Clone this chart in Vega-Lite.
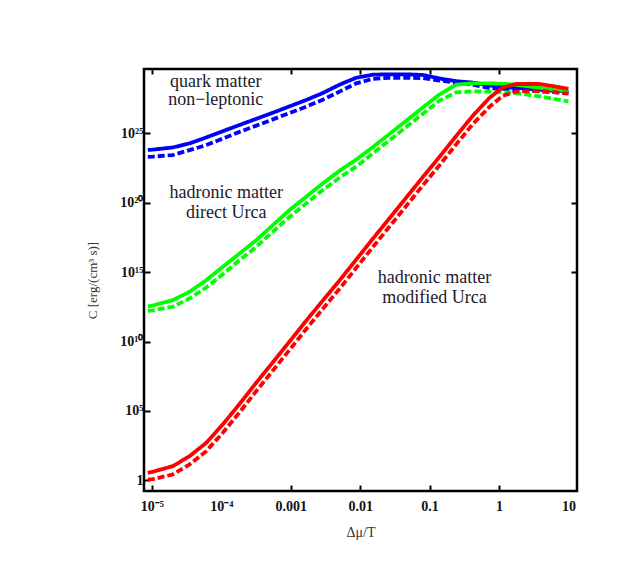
{
  "$schema": "https://vega.github.io/schema/vega-lite/v6.json",
  "width": 433,
  "height": 422,
  "autosize": {"type": "none"},
  "padding": {"left": 144, "top": 69, "right": 45, "bottom": 84},
  "background": "white",
  "config": {
    "view": {"stroke": "#000", "strokeWidth": 2.5},
    "axis": {"labelFont": "Liberation Serif", "titleFont": "Liberation Serif", "grid": false, "domain": false, "tickColor": "#000", "tickWidth": 2, "labelColor": "#111", "titleColor": "#333", "titleFontWeight": "normal"}
  },
  "datasets": {
    "curves": [
      {"x": 8.71e-6, "y": 6.31e23, "series": "quark", "style": "solid"},
      {"x": 1.035e-5, "y": 6.607e23, "series": "quark", "style": "solid"},
      {"x": 1.995e-5, "y": 9.55e23, "series": "quark", "style": "solid"},
      {"x": 3.491e-5, "y": 1.862e24, "series": "quark", "style": "solid"},
      {"x": 6.067e-5, "y": 5.012e24, "series": "quark", "style": "solid"},
      {"x": 1.052e-4, "y": 1.413e25, "series": "quark", "style": "solid"},
      {"x": 1.832e-4, "y": 3.981e25, "series": "quark", "style": "solid"},
      {"x": 3.184e-4, "y": 1.096e26, "series": "quark", "style": "solid"},
      {"x": 5.521e-4, "y": 3.02e26, "series": "quark", "style": "solid"},
      {"x": 9.616e-4, "y": 8.71e26, "series": "quark", "style": "solid"},
      {"x": 1.671e-3, "y": 2.512e27, "series": "quark", "style": "solid"},
      {"x": 2.897e-3, "y": 7.943e27, "series": "quark", "style": "solid"},
      {"x": 5.047e-3, "y": 3.162e28, "series": "quark", "style": "solid"},
      {"x": 8.77e-3, "y": 1e29, "series": "quark", "style": "solid"},
      {"x": 1.521e-2, "y": 1.66e29, "series": "quark", "style": "solid"},
      {"x": 2.649e-2, "y": 1.778e29, "series": "quark", "style": "solid"},
      {"x": 4.603e-2, "y": 1.778e29, "series": "quark", "style": "solid"},
      {"x": 7.98e-2, "y": 1.585e29, "series": "quark", "style": "solid"},
      {"x": 0.139, "y": 8.913e28, "series": "quark", "style": "solid"},
      {"x": 0.2415, "y": 5.623e28, "series": "quark", "style": "solid"},
      {"x": 0.4188, "y": 4.467e28, "series": "quark", "style": "solid"},
      {"x": 0.7295, "y": 2.818e28, "series": "quark", "style": "solid"},
      {"x": 1.132, "y": 2.138e28, "series": "quark", "style": "solid"},
      {"x": 1.762, "y": 1.862e28, "series": "quark", "style": "solid"},
      {"x": 3.828, "y": 1.38e28, "series": "quark", "style": "solid"},
      {"x": 5.943, "y": 1.175e28, "series": "quark", "style": "solid"},
      {"x": 10, "y": 1e28, "series": "quark", "style": "solid"},

      {"x": 8.71e-6, "y": 1.995e23, "series": "quark", "style": "dashed"},
      {"x": 1.035e-5, "y": 2.089e23, "series": "quark", "style": "dashed"},
      {"x": 1.995e-5, "y": 2.692e23, "series": "quark", "style": "dashed"},
      {"x": 3.491e-5, "y": 6.166e23, "series": "quark", "style": "dashed"},
      {"x": 6.067e-5, "y": 1.413e24, "series": "quark", "style": "dashed"},
      {"x": 1.052e-4, "y": 4.169e24, "series": "quark", "style": "dashed"},
      {"x": 1.832e-4, "y": 1.259e25, "series": "quark", "style": "dashed"},
      {"x": 3.184e-4, "y": 3.548e25, "series": "quark", "style": "dashed"},
      {"x": 5.521e-4, "y": 1e26, "series": "quark", "style": "dashed"},
      {"x": 9.616e-4, "y": 2.884e26, "series": "quark", "style": "dashed"},
      {"x": 1.671e-3, "y": 8.318e26, "series": "quark", "style": "dashed"},
      {"x": 2.897e-3, "y": 2.63e27, "series": "quark", "style": "dashed"},
      {"x": 5.047e-3, "y": 1e28, "series": "quark", "style": "dashed"},
      {"x": 8.77e-3, "y": 3.981e28, "series": "quark", "style": "dashed"},
      {"x": 1.521e-2, "y": 8.318e28, "series": "quark", "style": "dashed"},
      {"x": 2.649e-2, "y": 1e29, "series": "quark", "style": "dashed"},
      {"x": 4.603e-2, "y": 1e29, "series": "quark", "style": "dashed"},
      {"x": 7.98e-2, "y": 9.333e28, "series": "quark", "style": "dashed"},
      {"x": 0.139, "y": 6.31e28, "series": "quark", "style": "dashed"},
      {"x": 0.2415, "y": 4.467e28, "series": "quark", "style": "dashed"},
      {"x": 0.4188, "y": 3.162e28, "series": "quark", "style": "dashed"},
      {"x": 0.7295, "y": 1.778e28, "series": "quark", "style": "dashed"},
      {"x": 1.132, "y": 1.585e28, "series": "quark", "style": "dashed"},
      {"x": 1.762, "y": 1.318e28, "series": "quark", "style": "dashed"},
      {"x": 3.828, "y": 1.047e28, "series": "quark", "style": "dashed"},
      {"x": 5.943, "y": 9.12e27, "series": "quark", "style": "dashed"},
      {"x": 10, "y": 7.943e27, "series": "quark", "style": "dashed"},

      {"x": 8.71e-6, "y": 3.311e12, "series": "direct", "style": "solid"},
      {"x": 1.035e-5, "y": 3.981e12, "series": "direct", "style": "solid"},
      {"x": 1.995e-5, "y": 9.55e12, "series": "direct", "style": "solid"},
      {"x": 3.491e-5, "y": 3.802e13, "series": "direct", "style": "solid"},
      {"x": 6.067e-5, "y": 2.63e14, "series": "direct", "style": "solid"},
      {"x": 1.052e-4, "y": 2.399e15, "series": "direct", "style": "solid"},
      {"x": 1.832e-4, "y": 2.188e16, "series": "direct", "style": "solid"},
      {"x": 3.184e-4, "y": 1.995e17, "series": "direct", "style": "solid"},
      {"x": 5.521e-4, "y": 2.399e18, "series": "direct", "style": "solid"},
      {"x": 9.616e-4, "y": 2.951e19, "series": "direct", "style": "solid"},
      {"x": 1.671e-3, "y": 2.692e20, "series": "direct", "style": "solid"},
      {"x": 2.897e-3, "y": 2.455e21, "series": "direct", "style": "solid"},
      {"x": 5.047e-3, "y": 1.995e22, "series": "direct", "style": "solid"},
      {"x": 8.77e-3, "y": 1.259e23, "series": "direct", "style": "solid"},
      {"x": 1.521e-2, "y": 1e24, "series": "direct", "style": "solid"},
      {"x": 2.649e-2, "y": 8.913e24, "series": "direct", "style": "solid"},
      {"x": 4.603e-2, "y": 7.943e25, "series": "direct", "style": "solid"},
      {"x": 7.98e-2, "y": 7.079e26, "series": "direct", "style": "solid"},
      {"x": 0.139, "y": 6.31e27, "series": "direct", "style": "solid"},
      {"x": 0.2415, "y": 3.162e28, "series": "direct", "style": "solid"},
      {"x": 0.4188, "y": 3.981e28, "series": "direct", "style": "solid"},
      {"x": 0.7295, "y": 3.981e28, "series": "direct", "style": "solid"},
      {"x": 1.132, "y": 3.715e28, "series": "direct", "style": "solid"},
      {"x": 1.762, "y": 3.162e28, "series": "direct", "style": "solid"},
      {"x": 3.828, "y": 1.905e28, "series": "direct", "style": "solid"},
      {"x": 5.943, "y": 1.413e28, "series": "direct", "style": "solid"},
      {"x": 10, "y": 1e28, "series": "direct", "style": "solid"},

      {"x": 8.71e-6, "y": 1.585e12, "series": "direct", "style": "dashed"},
      {"x": 1.035e-5, "y": 1.778e12, "series": "direct", "style": "dashed"},
      {"x": 1.995e-5, "y": 3.162e12, "series": "direct", "style": "dashed"},
      {"x": 3.491e-5, "y": 1.259e13, "series": "direct", "style": "dashed"},
      {"x": 6.067e-5, "y": 7.762e13, "series": "direct", "style": "dashed"},
      {"x": 1.052e-4, "y": 7.079e14, "series": "direct", "style": "dashed"},
      {"x": 1.832e-4, "y": 7.244e15, "series": "direct", "style": "dashed"},
      {"x": 3.184e-4, "y": 6.607e16, "series": "direct", "style": "dashed"},
      {"x": 5.521e-4, "y": 7.943e17, "series": "direct", "style": "dashed"},
      {"x": 9.616e-4, "y": 9.55e18, "series": "direct", "style": "dashed"},
      {"x": 1.671e-3, "y": 8.913e19, "series": "direct", "style": "dashed"},
      {"x": 2.897e-3, "y": 8.128e20, "series": "direct", "style": "dashed"},
      {"x": 5.047e-3, "y": 6.31e21, "series": "direct", "style": "dashed"},
      {"x": 8.77e-3, "y": 3.981e22, "series": "direct", "style": "dashed"},
      {"x": 1.521e-2, "y": 3.548e23, "series": "direct", "style": "dashed"},
      {"x": 2.649e-2, "y": 3.162e24, "series": "direct", "style": "dashed"},
      {"x": 4.603e-2, "y": 2.818e25, "series": "direct", "style": "dashed"},
      {"x": 7.98e-2, "y": 2.512e26, "series": "direct", "style": "dashed"},
      {"x": 0.139, "y": 2.239e27, "series": "direct", "style": "dashed"},
      {"x": 0.2415, "y": 8.913e27, "series": "direct", "style": "dashed"},
      {"x": 0.4188, "y": 1.047e28, "series": "direct", "style": "dashed"},
      {"x": 0.7295, "y": 1e28, "series": "direct", "style": "dashed"},
      {"x": 1.132, "y": 9.333e27, "series": "direct", "style": "dashed"},
      {"x": 1.762, "y": 7.943e27, "series": "direct", "style": "dashed"},
      {"x": 3.828, "y": 4.467e27, "series": "direct", "style": "dashed"},
      {"x": 5.943, "y": 3.162e27, "series": "direct", "style": "dashed"},
      {"x": 10, "y": 1.995e27, "series": "direct", "style": "dashed"},

      {"x": 8.71e-6, "y": 3.467, "series": "modified", "style": "solid"},
      {"x": 1.035e-5, "y": 4.169, "series": "modified", "style": "solid"},
      {"x": 1.995e-5, "y": 10.47, "series": "modified", "style": "solid"},
      {"x": 3.491e-5, "y": 54.95, "series": "modified", "style": "solid"},
      {"x": 6.067e-5, "y": 501.2, "series": "modified", "style": "solid"},
      {"x": 1.052e-4, "y": 1.072e4, "series": "modified", "style": "solid"},
      {"x": 1.832e-4, "y": 3.162e5, "series": "modified", "style": "solid"},
      {"x": 3.184e-4, "y": 1.072e7, "series": "modified", "style": "solid"},
      {"x": 5.521e-4, "y": 3.162e8, "series": "modified", "style": "solid"},
      {"x": 9.616e-4, "y": 1e10, "series": "modified", "style": "solid"},
      {"x": 1.671e-3, "y": 3.162e11, "series": "modified", "style": "solid"},
      {"x": 2.897e-3, "y": 8.913e12, "series": "modified", "style": "solid"},
      {"x": 5.047e-3, "y": 2.512e14, "series": "modified", "style": "solid"},
      {"x": 8.77e-3, "y": 7.943e15, "series": "modified", "style": "solid"},
      {"x": 1.521e-2, "y": 2.512e17, "series": "modified", "style": "solid"},
      {"x": 2.649e-2, "y": 7.586e18, "series": "modified", "style": "solid"},
      {"x": 4.603e-2, "y": 2.291e20, "series": "modified", "style": "solid"},
      {"x": 7.98e-2, "y": 6.918e21, "series": "modified", "style": "solid"},
      {"x": 0.139, "y": 1.995e23, "series": "modified", "style": "solid"},
      {"x": 0.2415, "y": 6.31e24, "series": "modified", "style": "solid"},
      {"x": 0.4188, "y": 1.82e26, "series": "modified", "style": "solid"},
      {"x": 0.7295, "y": 3.548e27, "series": "modified", "style": "solid"},
      {"x": 1.132, "y": 1.995e28, "series": "modified", "style": "solid"},
      {"x": 1.762, "y": 3.548e28, "series": "modified", "style": "solid"},
      {"x": 3.828, "y": 3.548e28, "series": "modified", "style": "solid"},
      {"x": 5.943, "y": 2.512e28, "series": "modified", "style": "solid"},
      {"x": 10, "y": 1.585e28, "series": "modified", "style": "solid"},

      {"x": 8.71e-6, "y": 1.175, "series": "modified", "style": "dashed"},
      {"x": 1.035e-5, "y": 1.202, "series": "modified", "style": "dashed"},
      {"x": 1.995e-5, "y": 2.63, "series": "modified", "style": "dashed"},
      {"x": 3.491e-5, "y": 13.8, "series": "modified", "style": "dashed"},
      {"x": 6.067e-5, "y": 125.9, "series": "modified", "style": "dashed"},
      {"x": 1.052e-4, "y": 2692, "series": "modified", "style": "dashed"},
      {"x": 1.832e-4, "y": 7.943e4, "series": "modified", "style": "dashed"},
      {"x": 3.184e-4, "y": 2.692e6, "series": "modified", "style": "dashed"},
      {"x": 5.521e-4, "y": 7.943e7, "series": "modified", "style": "dashed"},
      {"x": 9.616e-4, "y": 2.512e9, "series": "modified", "style": "dashed"},
      {"x": 1.671e-3, "y": 7.943e10, "series": "modified", "style": "dashed"},
      {"x": 2.897e-3, "y": 2.239e12, "series": "modified", "style": "dashed"},
      {"x": 5.047e-3, "y": 6.31e13, "series": "modified", "style": "dashed"},
      {"x": 8.77e-3, "y": 1.995e15, "series": "modified", "style": "dashed"},
      {"x": 1.521e-2, "y": 6.31e16, "series": "modified", "style": "dashed"},
      {"x": 2.649e-2, "y": 1.905e18, "series": "modified", "style": "dashed"},
      {"x": 4.603e-2, "y": 5.754e19, "series": "modified", "style": "dashed"},
      {"x": 7.98e-2, "y": 1.738e21, "series": "modified", "style": "dashed"},
      {"x": 0.139, "y": 5.012e22, "series": "modified", "style": "dashed"},
      {"x": 0.2415, "y": 1.585e24, "series": "modified", "style": "dashed"},
      {"x": 0.4188, "y": 4.571e25, "series": "modified", "style": "dashed"},
      {"x": 0.7295, "y": 7.943e26, "series": "modified", "style": "dashed"},
      {"x": 1.132, "y": 5.012e27, "series": "modified", "style": "dashed"},
      {"x": 1.762, "y": 1e28, "series": "modified", "style": "dashed"},
      {"x": 3.828, "y": 1.122e28, "series": "modified", "style": "dashed"},
      {"x": 5.943, "y": 9.55e27, "series": "modified", "style": "dashed"},
      {"x": 10, "y": 7.079e27, "series": "modified", "style": "dashed"}
    ],
    "notes": [
      {"nx": 8.3e-5, "ny": 5.25e28, "label": "quark matter"},
      {"nx": 8.3e-5, "ny": 2.51e27, "label": "non\u2212leptonic"},
      {"nx": 1.178e-4, "ny": 5.1e20, "label": "hadronic matter"},
      {"nx": 1.178e-4, "ny": 1.7e19, "label": "direct Urca"},
      {"nx": 0.1178, "ny": 3.47e14, "label": "hadronic matter"},
      {"nx": 0.1178, "ny": 1.26e13, "label": "modified Urca"}
    ]
  },
  "layer": [
    {
      "data": {"name": "curves"},
      "transform": [{"filter": "datum.series == 'quark'"}],
      "mark": {"type": "line", "color": "#0000ff", "strokeWidth": 3.8, "clip": true},
      "encoding": {
        "x": {"field": "x", "type": "quantitative",
              "scale": {"type": "log", "domain": [7.69e-6, 13.3], "nice": false},
              "axis": {"orient": "bottom", "values": [1e-5, 1e-4, 0.001, 0.01, 0.1, 1, 10],
                       "labelExpr": "datum.value < 5e-5 ? '10\u207b\u2075' : datum.value < 5e-4 ? '10\u207b\u2074' : datum.value < 5e-3 ? '0.001' : datum.value < 0.05 ? '0.01' : datum.value < 0.5 ? '0.1' : datum.value < 5 ? '1' : '10'",
                       "tickSize": -6, "labelPadding": 14, "labelFontSize": 14, "labelFontWeight": "bold",
                       "tickOpacity": {"condition": {"test": "(datum.value > 5e-5 && datum.value < 5e-4) || datum.value > 5", "value": 0}, "value": 1},
                       "title": "\u0394\u03bc/T", "titleFontSize": 14, "titlePadding": 12}},
        "y": {"field": "y", "type": "quantitative",
              "scale": {"type": "log", "domain": [0.17, 4.27e29], "nice": false},
              "axis": {"orient": "left", "values": [1, 1e5, 1e10, 1e15, 1e20, 1e25],
                       "labelExpr": "datum.value < 10 ? '1' : datum.value < 1e6 ? '10\u2075' : datum.value < 1e11 ? '10\u00b9\u2070' : datum.value < 1e16 ? '10\u00b9\u2075' : datum.value < 1e21 ? '10\u00b2\u2070' : '10\u00b2\u2075'",
                       "tickSize": -6, "labelPadding": 7, "labelFontSize": 14, "labelFontWeight": "bold",
                       "title": "C [erg/(cm\u00b3 s)]", "titleFontSize": 13, "titlePadding": 20}},
        "strokeDash": {"field": "style", "type": "nominal", "scale": {"domain": ["solid", "dashed"], "range": [[1, 0], [7, 3]]}, "legend": null}
      }
    },
    {
      "data": {"name": "curves"},
      "transform": [{"filter": "datum.series == 'direct'"}],
      "mark": {"type": "line", "color": "#00ff00", "strokeWidth": 3.8, "clip": true},
      "encoding": {
        "x": {"field": "x", "type": "quantitative",
              "axis": {"orient": "top", "values": [1e-5, 0.001, 0.01, 0.1, 1], "labels": false, "tickSize": -5, "title": null}},
        "y": {"field": "y", "type": "quantitative",
              "axis": {"orient": "right", "values": [1e15, 1e20, 1e25], "labels": false, "tickSize": -6, "title": null}},
        "strokeDash": {"field": "style", "type": "nominal", "legend": null}
      }
    },
    {
      "data": {"name": "curves"},
      "transform": [{"filter": "datum.series == 'modified'"}],
      "mark": {"type": "line", "color": "#ff0000", "strokeWidth": 3.8, "clip": true},
      "encoding": {
        "x": {"field": "x", "type": "quantitative", "axis": null},
        "y": {"field": "y", "type": "quantitative", "axis": null},
        "strokeDash": {"field": "style", "type": "nominal", "legend": null}
      }
    },
    {
      "data": {"name": "notes"},
      "mark": {"type": "text", "font": "Liberation Serif", "fontSize": 18, "color": "#1a1a2a", "align": "center", "baseline": "middle"},
      "encoding": {
        "x": {"field": "nx", "type": "quantitative", "axis": null},
        "y": {"field": "ny", "type": "quantitative", "axis": null},
        "text": {"field": "label"}
      }
    }
  ],
  "resolve": {"axis": {"x": "independent", "y": "independent"}}
}
